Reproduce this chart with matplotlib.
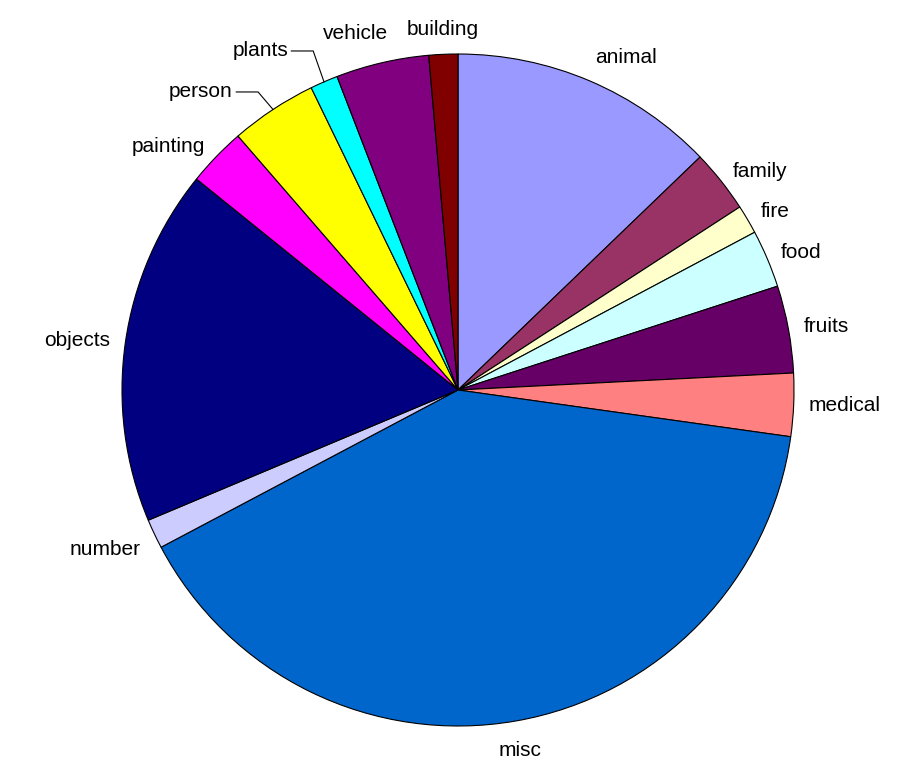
import numpy as np
import matplotlib.pyplot as plt

# slice sizes, in degrees of arc
labels = ['animal', 'family', 'fire', 'food', 'fruits', 'medical', 'misc',
          'number', 'objects', 'painting', 'person', 'plants', 'vehicle', 'building']
values = [46.1, 10.9, 5.0, 10.0, 15.1, 10.9, 144.1,
          5.1, 61.7, 10.2, 15.0, 4.8, 16.1, 5.0]
colors = ['#9999FF', '#993366', '#FFFFCC', '#CCFFFF', '#660066', '#FF8080', '#0066CC',
          '#CCCCFF', '#000080', '#FF00FF', '#FFFF00', '#00FFFF', '#800080', '#800000']

# labels that Excel moved off their slice (text anchor in pie-radius units)
moved = {'person': (-0.670, 0.887, 'right'),
         'plants': (-0.506, 1.009, 'right'),
         'vehicle': (-0.304, 1.033, 'center')}

plt.rcParams['font.family'] = ['Liberation Sans', 'DejaVu Sans']

fig = plt.figure(figsize=(9.07, 7.75), dpi=100)
ax = fig.add_axes([0, 0, 1, 1])
wedges, _ = ax.pie(values, colors=colors, startangle=90, counterclock=False,
                   wedgeprops=dict(edgecolor='black', linewidth=0.8))
ax.set_aspect('auto')
ax.set_xlim(-458 / 336, 449 / 336)
ax.set_ylim(-385 / 336, 390 / 336)
ax.axis('off')

fs = 15
for w, lab in zip(wedges, labels):
    mid = np.deg2rad((w.theta1 + w.theta2) / 2)
    cx, cy = np.cos(mid), np.sin(mid)
    if lab in moved:
        tx, ty, ha = moved[lab]
        if lab == 'vehicle':
            ax.text(tx, ty, lab, ha=ha, va='bottom', fontsize=fs)
            continue
        ax.text(tx, ty, lab, ha=ha, va='center', fontsize=fs)
        x0 = tx + 0.01
        ax.plot([x0, x0 + 0.065, cx], [ty, ty, cy], color='black', lw=0.8)
        continue
    r = 1.045 if cy > -0.7 else 1.06
    ha = 'left' if cx > 0.3 else ('right' if cx < -0.3 else 'center')
    va = 'bottom' if cy > 0.7 else ('top' if cy < -0.4 else 'center')
    ax.text(r * cx, r * cy, lab, ha=ha, va=va, fontsize=fs)

fig.savefig('out.png', dpi=100)
